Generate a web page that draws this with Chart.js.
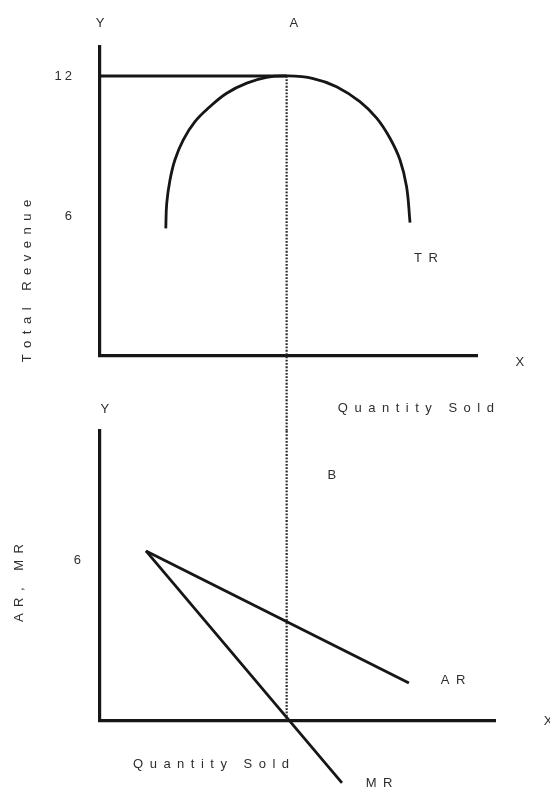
<!DOCTYPE html>
<html><head><meta charset="utf-8">
<script src="https://cdn.jsdelivr.net/npm/chart.js@4.4.1/dist/chart.umd.min.js"></script>
<style>
html,body{margin:0;padding:0;background:#fff;}
#wrap{position:relative;width:550px;height:792px;background:#fff;}
#wrap canvas{position:absolute;left:0;top:0;}
</style></head><body>
<div id="wrap"><canvas id="topChart" width="550" height="792"></canvas><canvas id="bottomChart" width="550" height="792"></canvas></div>
<script>
// ---------- Top panel: Total Revenue (TR) ----------
const trQty     = [2.82, 2.86, 3.00, 3.21, 3.57, 4.07, 4.71, 5.43, 6.29, 7.14, 8.00, 9.14, 10.14, 11.14, 11.86, 12.43, 12.86, 13.14, 13.29];
const trRevenue = [5.47, 6.54, 7.54, 8.40, 9.26, 10.04, 10.68, 11.26, 11.69, 11.94, 12.00, 11.89, 11.54, 10.90, 10.19, 9.33, 8.40, 7.26, 5.71];
const topTicks = [6, 12];
const peakQty = 8;
const peakRevenue = 12;
const maxLineQty = [0, 8];          // horizontal line at TR = 12
const guideTopRevenue = [12, -3.2]; // dotted guide in the top panel (down to bottom panel's top)

// ---------- Bottom panel: AR, MR ----------
const arQty   = [1.97, 13.24];
const arValue = [6.34, 1.42];
const mrQty   = [1.97, 10.37];
const mrValue = [6.34, -2.31];
const bottomTicks = [6];
const guideBottomValue = [10.81, 0];

const FONT = '"Liberation Sans", Arial, Helvetica, sans-serif';
const INK = '#161616';
const TEXT = '#2e2e2e';

function pts(xs, ys) { return xs.map((x, i) => ({x, y: ys[i]})); }

function spaced(ctx, text, x, y, spacing, rot) {
  const chars = [...text];
  const widths = chars.map(c => ctx.measureText(c).width);
  const total = widths.reduce((a, b) => a + b, 0) + spacing * (chars.length - 1);
  ctx.save();
  ctx.translate(x, y);
  if (rot) ctx.rotate(rot);
  ctx.textAlign = 'left';
  ctx.textBaseline = 'middle';
  let cx = -total / 2;
  chars.forEach((c, i) => { ctx.fillText(c, cx, 0); cx += widths[i] + spacing; });
  ctx.restore();
}

function labelsPlugin(items) {
  return {
    id: 'textLabels',
    beforeDraw(chart) { try { chart.ctx.letterSpacing = '3px'; } catch (e) {} },
    afterDraw(chart) {
      const {ctx, scales: {x, y}} = chart;
      ctx.save();
      try { ctx.letterSpacing = '0px'; } catch (e) {}
      ctx.font = '13px ' + FONT;
      ctx.fillStyle = TEXT;
      items.forEach(it => spaced(ctx, it.text, x.getPixelForValue(it.q), y.getPixelForValue(it.v), it.sp ?? 6.5, it.rot || 0));
      ctx.restore();
    }
  };
}

const axisBase = {
  type: 'linear',
  grid: {display: false, drawTicks: false},
  border: {display: true, color: INK, width: 3.2}
};

function lineDs(data, extra) {
  return Object.assign({
    data, showLine: true, borderColor: INK, borderWidth: 2.8, pointRadius: 0,
    fill: false, clip: false, tension: 0
  }, extra || {});
}

const guideStyle = {borderWidth: 2.2, borderDash: [1.8, 1.5], borderColor: '#2a2a2a'};

// Top chart
new Chart(document.getElementById('topChart'), {
  type: 'scatter',
  data: {
    datasets: [
      lineDs(pts(maxLineQty, [peakRevenue, peakRevenue]), {borderWidth: 3}),
      lineDs(pts([peakQty, peakQty], guideTopRevenue), guideStyle),
      lineDs(pts(trQty, trRevenue), {tension: 0.4})
    ]
  },
  options: {
    responsive: false, animation: false, devicePixelRatio: 1,
    layout: {padding: {top: 47, left: 0, right: 73, bottom: 0}},
    plugins: {legend: {display: false}, tooltip: {enabled: false}},
    scales: {
      x: Object.assign({}, axisBase, {min: 0, max: 16.16, ticks: {display: false},
        afterFit(s) { s.height = 436; }}),
      y: Object.assign({}, axisBase, {min: 0, max: 13.24,
        ticks: {font: {family: FONT, size: 13}, color: TEXT, padding: 25},
        afterBuildTicks(s) { s.ticks = topTicks.map(v => ({value: v})); },
        afterFit(s) { s.width = 100; }})
    }
  },
  plugins: [labelsPlugin([
    {text: 'Y', q: 0, v: 14.27},
    {text: 'A', q: 8.31, v: 14.27},
    {text: 'X', q: 18.0, v: -0.26},
    {text: 'TR', q: 13.97, v: 4.2},
    {text: 'Quantity Sold', q: 13.54, v: -2.23},
    {text: 'Total Revenue', q: -3.13, v: 3.21, rot: -Math.PI / 2}
  ])]
});

// Bottom chart
new Chart(document.getElementById('bottomChart'), {
  type: 'scatter',
  data: {
    datasets: [
      lineDs(pts([peakQty, peakQty], guideBottomValue), guideStyle),
      lineDs(pts(arQty, arValue)),
      lineDs(pts(mrQty, mrValue))
    ]
  },
  options: {
    responsive: false, animation: false, devicePixelRatio: 1,
    layout: {padding: {top: 431, left: 0, right: 55, bottom: 0}},
    plugins: {legend: {display: false}, tooltip: {enabled: false}},
    scales: {
      x: Object.assign({}, axisBase, {min: 0, max: 16.93, ticks: {display: false},
        afterFit(s) { s.height = 71; }}),
      y: Object.assign({}, axisBase, {min: 0, max: 10.81,
        ticks: {font: {family: FONT, size: 13}, color: TEXT, padding: 16},
        afterBuildTicks(s) { s.ticks = bottomTicks.map(v => ({value: v})); },
        afterFit(s) { s.width = 100; }})
    }
  },
  plugins: [labelsPlugin([
    {text: 'Y', q: 0.21, v: 11.63},
    {text: 'B', q: 9.94, v: 9.17},
    {text: 'X', q: 19.2, v: 0},
    {text: 'AR', q: 15.13, v: 1.53},
    {text: 'MR', q: 11.96, v: -2.31},
    {text: 'Quantity Sold', q: 4.76, v: -1.6},
    {text: 'AR, MR', q: -3.47, v: 5.14, rot: -Math.PI / 2}
  ])]
});
</script>
</body></html>
